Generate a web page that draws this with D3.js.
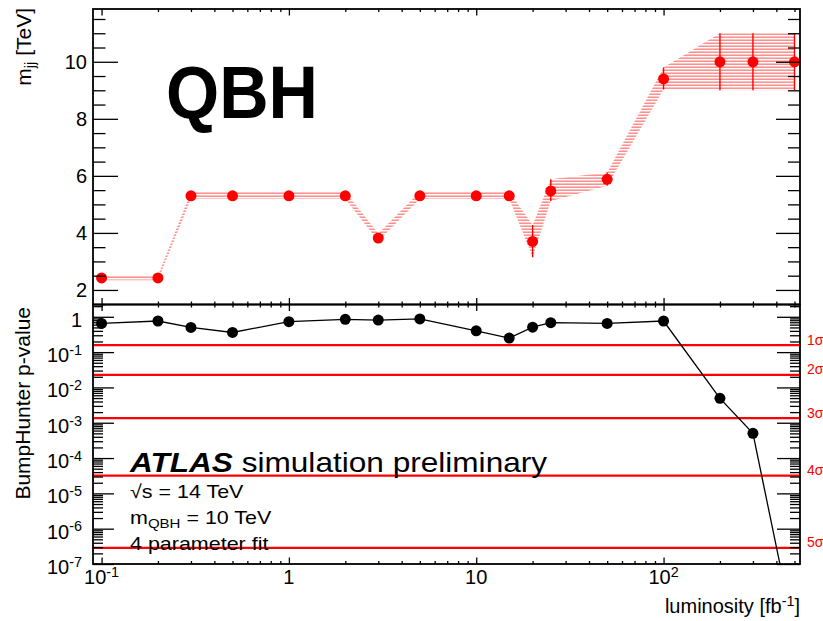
<!DOCTYPE html>
<html>
<head>
<meta charset="utf-8">
<script src="https://cdn.jsdelivr.net/npm/d3@7"></script>
<style>
  html, body { margin: 0; padding: 0; background: #fff; }
  svg { display: block; }
  text { font-family: "Liberation Sans", Arial, Helvetica, sans-serif; }
</style>
</head>
<body>
<svg id="chart" width="823" height="621"></svg>
<script>
// Integrated luminosity points [fb^-1]
const luminosity = [0.1, 0.2, 0.3, 0.5, 1, 2, 3, 5, 10, 15, 20, 25, 50, 100, 200, 300, 500];
// Fitted bump position m_jj [TeV] with its uncertainty band
const mjj     = [2.42, 2.42, 5.3, 5.3, 5.3, 5.3, 3.82, 5.3, 5.3, 5.3, 3.7, 5.47, 5.88, 9.4, 10, 10, 10];
const mjjLow  = [2.34, 2.34, 5.19, 5.19, 5.19, 5.19, 3.72, 5.19, 5.19, 5.19, 3.15, 5.12, 5.65, 9.03, 9.0, 9.0, 9.0];
const mjjHigh = [2.5, 2.5, 5.44, 5.44, 5.44, 5.44, 3.98, 5.44, 5.44, 5.44, 4.28, 5.88, 6.12, 9.8, 11, 11, 11];
// BumpHunter p-value at each luminosity
const pValue  = [0.65, 0.76, 0.50, 0.36, 0.73, 0.85, 0.81, 0.87, 0.40, 0.25, 0.51, 0.68, 0.65, 0.76, 0.0049, 0.0005, 1e-9];
// Significance reference lines (one-sided p-values)
const sigmaLabels = ["1σ", "2σ", "3σ", "4σ", "5σ"];
const sigmaP = [0.1587, 0.02275, 0.00135, 3.167e-5, 2.867e-7];
// Tick labels
const xMajor = [0.1, 1, 10, 100];
const xMajorLabels = [["10", "-1"], ["1", null], ["10", null], ["10", "2"]];
const yTopMajor = [2, 4, 6, 8, 10];
const yBotMajor = [1, 0.1, 0.01, 1e-3, 1e-4, 1e-5, 1e-6, 1e-7];
const yBotLabels = [["1", null], ["10", "-1"], ["10", "-2"], ["10", "-3"], ["10", "-4"], ["10", "-5"], ["10", "-6"], ["10", "-7"]];

const svg = d3.select("#chart");
const xL = 93, xR = 800, yT = 9, yM = 304.5, yB = 564;

const x = d3.scaleLog().domain([0.09, 535]).range([xL, xR]);
const yTop = d3.scaleLinear().domain([1.49, 11.85]).range([yM, yT]);
const yBot = d3.scaleLog().domain([1e-7, 2.23]).range([yB, yM]);

// minor tick values
const xMinor = [];
for (const dec of [0.1, 1, 10, 100]) for (let k = 2; k <= 9; k++) {
  const v = dec * k; if (v <= 535) xMinor.push(v);
}
const yTopMinor = d3.range(1.5, 11.85, 0.5).filter(v => v % 2 !== 0);
const yBotMinor = [];
for (let e = -7; e <= 0; e++) for (let k = 2; k <= 9; k++) {
  const v = k * Math.pow(10, e); if (v <= 2.23) yBotMinor.push(v);
}

const defs = svg.append("defs");
const hatch = defs.append("pattern").attr("id", "hatch")
  .attr("patternUnits", "userSpaceOnUse").attr("width", 8).attr("height", 3);
hatch.append("rect").attr("x", 0).attr("y", 0.6).attr("width", 8).attr("height", 1.1)
  .attr("fill", "#ff0000").attr("opacity", 0.62);
defs.append("clipPath").attr("id", "clipTop").append("rect")
  .attr("x", xL).attr("y", yT).attr("width", xR - xL).attr("height", yM - yT);
defs.append("clipPath").attr("id", "clipBot").append("rect")
  .attr("x", xL).attr("y", yM).attr("width", xR - xL).attr("height", yB - yM);

// ---------- top panel: fitted mass ----------
const topG = svg.append("g").attr("clip-path", "url(#clipTop)");
const idx = d3.range(luminosity.length);
const band = d3.area()
  .x(i => x(luminosity[i]))
  .y0(i => yTop(mjjLow[i]))
  .y1(i => yTop(mjjHigh[i]));
topG.append("path").attr("d", band(idx)).attr("fill", "url(#hatch)").attr("stroke", "none");

topG.selectAll("line.err").data(idx).join("line")
  .attr("class", "err")
  .attr("x1", i => x(luminosity[i])).attr("x2", i => x(luminosity[i]))
  .attr("y1", i => yTop(mjjLow[i])).attr("y2", i => yTop(mjjHigh[i]))
  .attr("stroke", "#ff0000").attr("stroke-width", 1.4);

topG.selectAll("circle").data(idx).join("circle")
  .attr("cx", i => x(luminosity[i])).attr("cy", i => yTop(mjj[i]))
  .attr("r", 5.5).attr("fill", "#ff0000");

// ---------- bottom panel: p-values ----------
const botG = svg.append("g").attr("clip-path", "url(#clipBot)");
botG.selectAll("line.sigma").data(sigmaP).join("line")
  .attr("class", "sigma")
  .attr("x1", xL).attr("x2", xR)
  .attr("y1", d => yBot(d)).attr("y2", d => yBot(d))
  .attr("stroke", "#ff0000").attr("stroke-width", 2.2);

botG.append("path")
  .attr("d", d3.line().x(i => x(luminosity[i])).y(i => yBot(pValue[i]))(idx))
  .attr("fill", "none").attr("stroke", "#000").attr("stroke-width", 1.3);
botG.selectAll("circle").data(idx).join("circle")
  .attr("cx", i => x(luminosity[i])).attr("cy", i => yBot(pValue[i]))
  .attr("r", 5.5).attr("fill", "#000");

svg.selectAll("text.sig").data(sigmaP).join("text")
  .attr("class", "sig")
  .attr("x", 807).attr("y", d => yBot(d) - 0.5)
  .attr("fill", "#ff0000").attr("font-size", 14)
  .text((d, i) => sigmaLabels[i]);

// ---------- axes ----------
function styleAxis(g) {
  g.select(".domain").remove();
  g.selectAll(".tick line").attr("stroke", "#000").attr("stroke-width", 1.3);
  g.selectAll(".tick text").remove();
}
function addAxis(axis, tx, ty) {
  svg.append("g").attr("transform", `translate(${tx},${ty})`).call(axis).call(styleAxis);
}
// x ticks on all four horizontal panel edges, pointing into each panel
for (const [yy, gen] of [[yT, d3.axisTop], [yM, d3.axisBottom], [yM, d3.axisTop], [yB, d3.axisBottom]]) {
  addAxis(gen(x).tickValues(xMajor).tickSize(-6.5).tickFormat(""), 0, yy);
  addAxis(gen(x).tickValues(xMinor).tickSize(-3).tickFormat(""), 0, yy);
}
// y ticks, top panel
addAxis(d3.axisLeft(yTop).tickValues(yTopMajor).tickSize(-25).tickFormat(""), xL, 0);
addAxis(d3.axisLeft(yTop).tickValues(yTopMinor).tickSize(-12.5).tickFormat(""), xL, 0);
addAxis(d3.axisRight(yTop).tickValues(yTopMajor).tickSize(-24).tickFormat(""), xR, 0);
addAxis(d3.axisRight(yTop).tickValues(yTopMinor).tickSize(-12).tickFormat(""), xR, 0);
// y ticks, bottom panel
addAxis(d3.axisLeft(yBot).tickValues(yBotMajor).tickSize(-21).tickFormat(""), xL, 0);
addAxis(d3.axisLeft(yBot).tickValues(yBotMinor).tickSize(-10).tickFormat(""), xL, 0);
addAxis(d3.axisRight(yBot).tickValues(yBotMajor).tickSize(-23).tickFormat(""), xR, 0);
addAxis(d3.axisRight(yBot).tickValues(yBotMinor).tickSize(-10).tickFormat(""), xR, 0);

// frames
svg.append("rect").attr("x", xL).attr("y", yT).attr("width", xR - xL).attr("height", yM - yT)
  .attr("fill", "none").attr("stroke", "#000").attr("stroke-width", 1.8);
svg.append("rect").attr("x", xL).attr("y", yM).attr("width", xR - xL).attr("height", yB - yM)
  .attr("fill", "none").attr("stroke", "#000").attr("stroke-width", 1.8);

// label with optional superscript
function powLabel(sel, base, sup) {
  sel.append("tspan").text(base);
  if (sup) sel.append("tspan").attr("dy", "-0.5em").attr("font-size", "0.72em").text(sup);
}
const tickFont = 20;
// top y labels
yTopMajor.forEach(v => {
  svg.append("text").attr("x", 87).attr("y", yTop(v) + 7.2)
    .attr("text-anchor", "end").attr("font-size", tickFont).text(v);
});
// bottom y labels
yBotMajor.forEach((v, i) => {
  const t = svg.append("text").attr("x", 82).attr("y", yBot(v) + 10)
    .attr("text-anchor", "end").attr("font-size", tickFont);
  powLabel(t, yBotLabels[i][0], yBotLabels[i][1]);
});
// x labels
xMajor.forEach((v, i) => {
  const t = svg.append("text").attr("x", x(v)).attr("y", 584)
    .attr("text-anchor", "middle").attr("font-size", tickFont);
  powLabel(t, xMajorLabels[i][0], xMajorLabels[i][1]);
});

// axis titles
const xt = svg.append("text").attr("x", 800).attr("y", 613)
  .attr("text-anchor", "end").attr("font-size", 20);
xt.append("tspan").text("luminosity [fb");
xt.append("tspan").attr("dy", "-0.5em").attr("font-size", "0.72em").text("-1");
xt.append("tspan").attr("dy", "0.36em").text("]");

const yt1 = svg.append("text").attr("transform", "translate(31,8) rotate(-90)")
  .attr("text-anchor", "end").attr("font-size", 21);
yt1.append("tspan").text("m");
yt1.append("tspan").attr("dy", "0.3em").attr("font-size", "0.7em").text("jj");
yt1.append("tspan").attr("dy", "-0.21em").text(" [TeV]");

svg.append("text").attr("transform", "translate(30,307) rotate(-90)")
  .attr("text-anchor", "end").attr("font-size", 21).text("BumpHunter p-value");

// annotations
svg.append("text").attr("x", 166).attr("y", 118)
  .attr("font-family", "'Open Sans', sans-serif").attr("font-weight", 700)
  .attr("font-size", 74).attr("textLength", 152).attr("lengthAdjust", "spacingAndGlyphs")
  .text("QBH");

// wide-set labels drawn with a slight horizontal stretch
function wideText(px, py, size, sx) {
  return svg.append("g").attr("transform", `translate(${px},${py}) scale(${sx},1)`)
    .append("text").attr("x", 0).attr("y", 0).attr("font-size", size);
}
const atlas = wideText(130, 472, 27, 1.17);
atlas.append("tspan").attr("font-weight", "bold").attr("font-style", "italic").text("ATLAS");
atlas.append("tspan").text(" simulation preliminary");

wideText(130, 498, 19, 1.13).text("√s = 14 TeV");
const mq = wideText(130, 524, 19, 1.13);
mq.append("tspan").text("m");
mq.append("tspan").attr("dy", "0.3em").attr("font-size", "0.7em").text("QBH");
mq.append("tspan").attr("dy", "-0.21em").text(" = 10 TeV");
wideText(130, 550, 19, 1.13).text("4 parameter fit");
</script>
</body>
</html>
